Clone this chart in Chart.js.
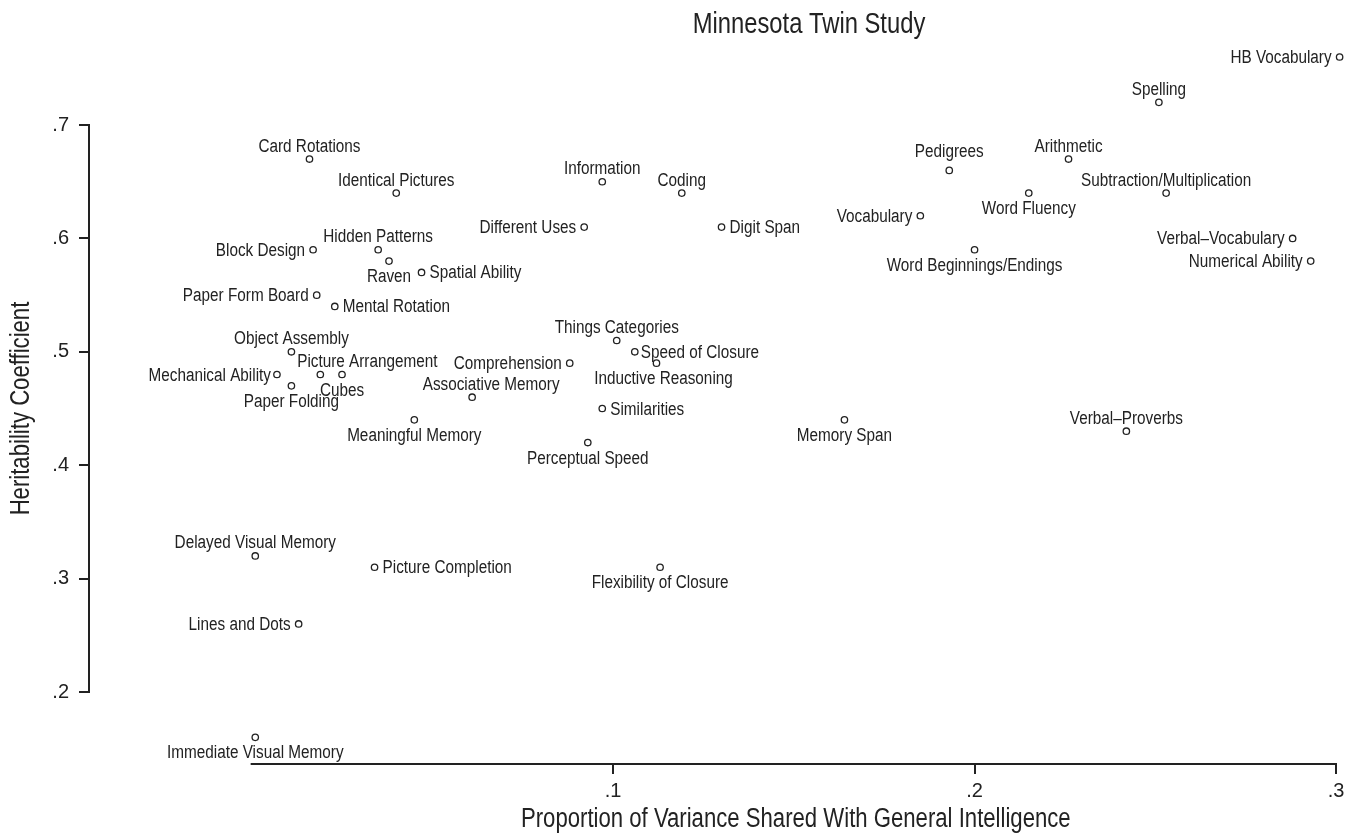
<!DOCTYPE html>
<html>
<head>
<meta charset="utf-8">
<script src="https://cdn.jsdelivr.net/npm/chart.js@4"></script>
<style>
  html, body { margin: 0; padding: 0; background: #fff; }
</style>
</head>
<body>
<canvas id="twinChart" width="1358" height="837"></canvas>
<script>
// 测验名称
const tests = [
    'HB Vocabulary', 'Spelling', 'Card Rotations', 'Arithmetic', 'Pedigrees',
    'Information', 'Identical Pictures', 'Coding', 'Word Fluency', 'Subtraction/Multiplication',
    'Vocabulary', 'Different Uses', 'Digit Span', 'Verbal\u2013Vocabulary', 'Block Design',
    'Hidden Patterns', 'Word Beginnings/Endings', 'Raven', 'Numerical Ability', 'Spatial Ability',
    'Paper Form Board', 'Mental Rotation', 'Things Categories', 'Object Assembly', 'Speed of Closure',
    'Comprehension', 'Inductive Reasoning', 'Mechanical Ability', 'Picture Arrangement', 'Cubes',
    'Paper Folding', 'Associative Memory', 'Similarities', 'Meaningful Memory', 'Memory Span',
    'Verbal\u2013Proverbs', 'Perceptual Speed', 'Delayed Visual Memory', 'Picture Completion', 'Flexibility of Closure',
    'Lines and Dots', 'Immediate Visual Memory'
];
// 与一般智力共享的方差比例
const gShare = [
    0.301, 0.251, 0.016, 0.226, 0.193,
    0.097, 0.040, 0.119, 0.215, 0.253,
    0.185, 0.092, 0.130, 0.288, 0.017,
    0.035, 0.200, 0.038, 0.293, 0.047,
    0.018, 0.023, 0.101, 0.011, 0.106,
    0.088, 0.112, 0.007, 0.019, 0.025,
    0.011, 0.061, 0.097, 0.045, 0.164,
    0.242, 0.093, 0.001, 0.034, 0.113,
    0.013, 0.001
];
// 遗传系数
const herit = [
    0.76, 0.72, 0.67, 0.67, 0.66,
    0.65, 0.64, 0.64, 0.64, 0.64,
    0.62, 0.61, 0.61, 0.60, 0.59,
    0.59, 0.59, 0.58, 0.58, 0.57,
    0.55, 0.54, 0.51, 0.50, 0.50,
    0.49, 0.49, 0.48, 0.48, 0.48,
    0.47, 0.46, 0.45, 0.44, 0.44,
    0.43, 0.42, 0.32, 0.31, 0.31,
    0.26, 0.16
];
// 标签方位 (N 上, S 下, E 右, W 左)
const labelPos = [
    'W', 'N', 'N', 'N', 'N',
    'N', 'N', 'N', 'S', 'N',
    'W', 'W', 'E', 'W', 'W',
    'N', 'S', 'S', 'W', 'E',
    'W', 'E', 'N', 'N', 'E',
    'W', 'S', 'W', 'N', 'S',
    'S', 'N', 'E', 'S', 'S',
    'N', 'S', 'N', 'E', 'S',
    'W', 'S'
];
// 个别标签的微调
const labelNudge = {
    'Picture Arrangement': [47, 0],
    'Associative Memory': [19, 0],
    'Inductive Reasoning': [7, 0],
    'Pedigrees': [0, -6],
    'Speed of Closure': [-2, 0],
    'Mechanical Ability': [2, 0]
};
const xTicks = [0.1, 0.2, 0.3];
const yTicks = [0.2, 0.3, 0.4, 0.5, 0.6, 0.7];
const xLine = [0, 0.3];
const yLine = [0.2, 0.7];

const FONT = "'Liberation Sans', Arial, sans-serif";
const INK = '#222222';
Chart.defaults.font.family = FONT;
Chart.defaults.color = INK;

const fmt = v => v.toFixed(1).replace(/^0/, '');

// 横向压缩，模拟窄体字
function narrowText(ctx, str, x, y, align, sx, rot) {
    ctx.save();
    ctx.translate(x, y);
    if (rot) ctx.rotate(rot);
    ctx.scale(sx, 1);
    ctx.textAlign = align;
    ctx.textBaseline = 'alphabetic';
    ctx.fillText(str, 0, 0);
    ctx.restore();
}

// 坐标轴线、标题和点标签
const decorPlugin = {
    id: 'decor',
    afterDraw(chart) {
        const ctx = chart.ctx;
        const xs = chart.scales.x, ys = chart.scales.y;
        const area = chart.chartArea;
        ctx.save();
        ctx.strokeStyle = INK;
        ctx.lineWidth = 2;
        ctx.lineCap = 'square';
        ctx.beginPath();
        ctx.moveTo(xs.getPixelForValue(xLine[0]), area.bottom);
        ctx.lineTo(xs.getPixelForValue(xLine[1]), area.bottom);
        ctx.moveTo(area.left, ys.getPixelForValue(yLine[0]));
        ctx.lineTo(area.left, ys.getPixelForValue(yLine[1]));
        ctx.stroke();

        ctx.fillStyle = INK;
        // 标题
        ctx.font = '29px ' + FONT;
        narrowText(ctx, 'Minnesota Twin Study', 809, 33, 'center', 0.82);
        // x 轴标题
        const xMid = (xs.getPixelForValue(xLine[0]) + xs.getPixelForValue(xLine[1])) / 2;
        ctx.font = '27px ' + FONT;
        narrowText(ctx, 'Proportion of Variance Shared With General Intelligence', xMid + 2, 827, 'center', 0.82);
        // y 轴标题
        const yMid = (ys.getPixelForValue(yLine[0]) + ys.getPixelForValue(yLine[1])) / 2;
        narrowText(ctx, 'Heritability Coefficient', 29, yMid, 'center', 0.82, -Math.PI / 2);

        // 点标签
        ctx.font = '18px ' + FONT;
        const meta = chart.getDatasetMeta(0);
        meta.data.forEach((pt, i) => {
            const name = tests[i];
            const nd = labelNudge[name] || [0, 0];
            let x = pt.x, y = pt.y, align = 'center';
            switch (labelPos[i]) {
                case 'N': y -= 7.5; break;
                case 'S': y += 21; break;
                case 'E': align = 'left'; x += 8; y += 6; break;
                case 'W': align = 'right'; x -= 8; y += 6; break;
            }
            narrowText(ctx, name, x + nd[0], y + nd[1], align, 0.85);
        });
        ctx.restore();
    }
};

new Chart(document.getElementById('twinChart').getContext('2d'), {
    type: 'scatter',
    data: {
        datasets: [{
            data: gShare.map((v, i) => ({ x: v, y: herit[i] })),
            pointStyle: 'circle',
            pointRadius: 3.2,
            pointBorderWidth: 1.3,
            pointBorderColor: INK,
            pointBackgroundColor: '#ffffff',
            clip: false
        }]
    },
    options: {
        responsive: false,
        animation: false,
        layout: { padding: { top: 40, right: 22, left: 0, bottom: 0 } },
        plugins: { legend: { display: false }, tooltip: { enabled: false } },
        scales: {
            x: {
                type: 'linear',
                min: -0.045,
                max: 0.3,
                afterBuildTicks: s => { s.ticks = xTicks.map(v => ({ value: v })); },
                afterFit: s => { s.height = 73; },
                border: { display: false },
                grid: { drawOnChartArea: false, drawTicks: true, tickLength: 10, color: INK, lineWidth: 2 },
                ticks: { callback: v => fmt(v), font: { size: 20 }, padding: 5, maxRotation: 0, color: INK }
            },
            y: {
                type: 'linear',
                min: 0.1365,
                max: 0.775,
                afterBuildTicks: s => { s.ticks = yTicks.map(v => ({ value: v })); },
                afterFit: s => { s.width = 89; },
                border: { display: false },
                grid: { drawOnChartArea: false, drawTicks: true, tickLength: 10, color: INK, lineWidth: 2 },
                ticks: { callback: v => fmt(v), font: { size: 20 }, padding: 10, color: INK }
            }
        }
    },
    plugins: [decorPlugin]
});
</script>
</body>
</html>
